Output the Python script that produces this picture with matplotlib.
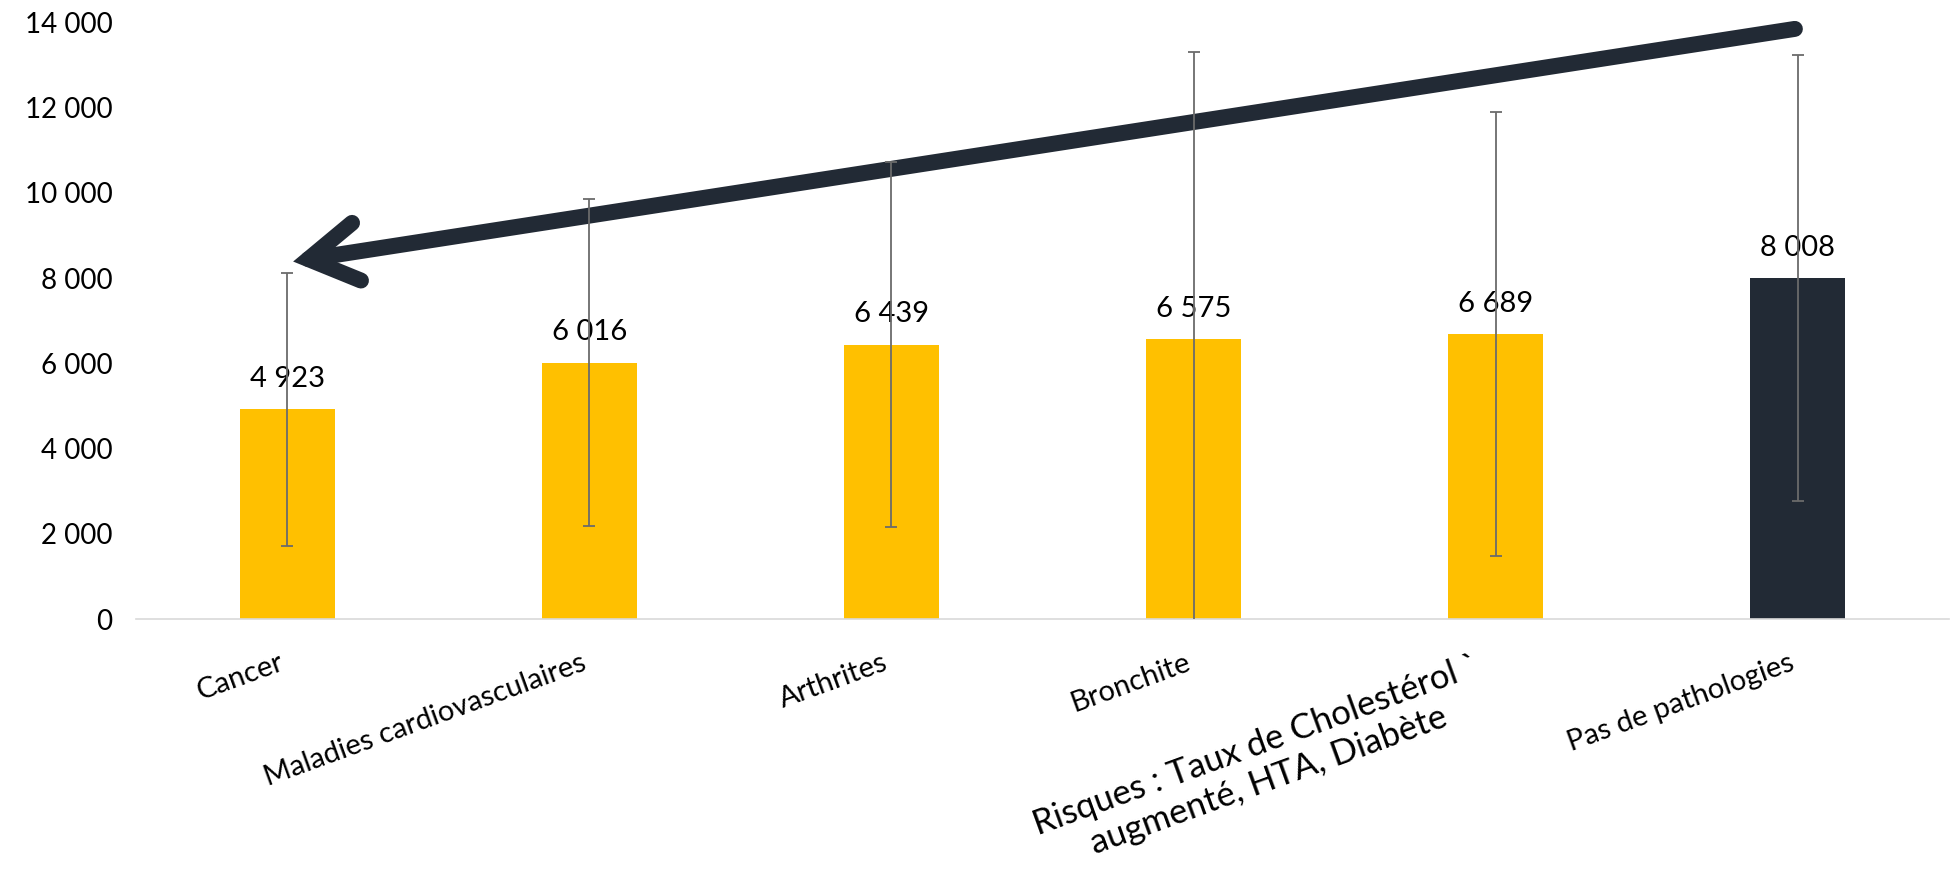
import numpy as np
import matplotlib.pyplot as plt
from matplotlib.ticker import FuncFormatter

plt.rcParams['font.family'] = ['Lato', 'DejaVu Sans']

categories = ["Cancer", "Maladies cardiovasculaires", "Arthrites", "Bronchite",
              "Risques : Taux de Cholestérol `\naugmenté, HTA, Diabète",
              "Pas de pathologies"]
values = [4923, 6016, 6439, 6575, 6689, 8008]
errors = [3200, 3845, 4285, 6735, 5205, 5230]
yticks = [0, 2000, 4000, 6000, 8000, 10000, 12000, 14000]

yellow = '#ffc000'
navy = '#222a35'
bar_colors = [yellow] * 5 + [navy]


def fmt(v, pos=None):
    return f"{v:,.0f}".replace(",", " ")


fig = plt.figure(figsize=(19.6, 8.75), dpi=100)
ax = fig.add_axes([136 / 1960, 1 - 619 / 875, (1949 - 136) / 1960, (619 - 22.5) / 875])

x = np.arange(len(categories))
ax.bar(x, values, width=0.314, color=bar_colors, zorder=1)
ax.errorbar(x, values, yerr=errors, fmt='none', ecolor='#6b6b6b',
            elinewidth=1.3, capsize=4.3, capthick=1.3, zorder=4)

for xi, v in zip(x, values):
    ax.annotate(fmt(v), (xi, v), xytext=(0, 16), textcoords='offset points',
                ha='center', va='baseline', fontsize=21, color='black', zorder=2)

# big arrow pointing from the healthy group back to the cancer group
ax.annotate('', xy=(0.02, 8390), xytext=(4.99, 13850),
            arrowprops=dict(arrowstyle='->,head_length=35,head_width=21',
                            mutation_scale=1, lw=11.5, color=navy,
                            shrinkA=0, shrinkB=0, capstyle='round',
                            joinstyle='miter'),
            zorder=3)

ax.set_xlim(-0.5, len(categories) - 0.5)
ax.set_ylim(0, 14000)
ax.set_yticks(yticks)
ax.yaxis.set_major_formatter(FuncFormatter(fmt))
ax.tick_params(axis='y', length=0, pad=17, labelsize=20)
ax.set_xticks(x)
ax.set_xticklabels(categories, rotation=20, ha='right', va='top',
                   multialignment='center')
ax.tick_params(axis='x', length=0, pad=22, labelsize=21)
ax.get_xticklabels()[4].set_fontsize(25)

for side in ['left', 'right', 'top']:
    ax.spines[side].set_visible(False)
ax.spines['bottom'].set_color('#d9d9d9')
ax.spines['bottom'].set_linewidth(1.2)

fig.savefig('out.png', dpi=100)
